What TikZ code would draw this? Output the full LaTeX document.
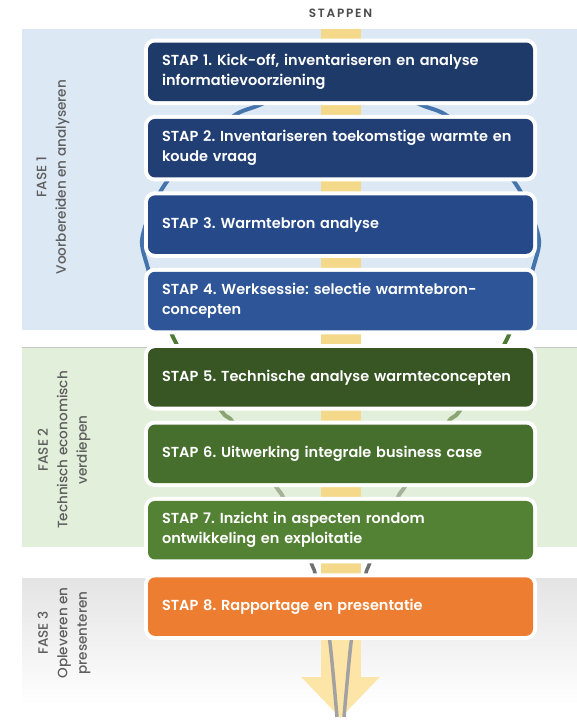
\documentclass[tikz,border=0pt]{standalone}
\usepackage{fontspec}
\setmainfont{Poppins}
\newfontfamily\semib{Poppins SemiBold}
\newfontfamily\stapf{Poppins SemiBold}[LetterSpace=15]
\newfontfamily\medf{Poppins Medium}
\usetikzlibrary{arrows.meta}
\pgfdeclarelayer{bands}
\pgfdeclarelayer{back}
\pgfsetlayers{bands,back,main}
\definecolor{cA}{HTML}{1E3A68}
\definecolor{cB}{HTML}{213F74}
\definecolor{cC}{HTML}{26498A}
\definecolor{cD}{HTML}{2D5597}
\definecolor{cE}{HTML}{375623}
\definecolor{cF}{HTML}{466F2D}
\definecolor{cG}{HTML}{548235}
\definecolor{cH}{HTML}{ED7D31}
\definecolor{bandA}{HTML}{DDE8F5}
\definecolor{bandB}{HTML}{E2EFDA}
\definecolor{bandC}{HTML}{E4E4E4}
\definecolor{yel}{HTML}{F5D98A}
\definecolor{ylight}{HTML}{FCE5A6}
\definecolor{labtxt}{HTML}{5E5E5E}
\definecolor{fBlue}{HTML}{4574AD}
\definecolor{fGreen}{HTML}{4E7A34}
\definecolor{fMGreen}{HTML}{8AA573}
\definecolor{fLGreen}{HTML}{A6B199}
\definecolor{fDGrey}{HTML}{6F6F6F}
\definecolor{fLGrey}{HTML}{A2A2A2}
\newcommand\myfunnelhalf{%
  \draw[fline, fBlue] plot[smooth] coordinates {(340.5,82) (290,93) (257,106) (235,115) (200,143) (168,180) (152,208) (142,240) (147,265) (160,305)};
  \draw[fline, fGreen] plot[smooth] coordinates {(160,305) (173,337) (178,347) (192,370)};
  \draw[fline, fMGreen] plot[smooth] coordinates {(178,347) (192,370) (200,380) (223,413) (232,421) (255,455)};
  \draw[fline, fLGreen] plot[smooth] coordinates {(255,455) (277,488) (283,497) (298,530)};
  \draw[line width=3.5pt, fDGrey] plot[smooth] coordinates {(298,530) (312,565) (315,573) (323,606)};
  \draw[line width=3.5pt, fLGrey] plot[smooth] coordinates {(323,606) (330,643) (337,717)};
}
\begin{document}
\frenchspacing
\begin{tikzpicture}[x=1pt,y=-1pt,
  stapbox/.style={rectangle, rounded corners=7pt, minimum width=385pt,
    minimum height=58.5pt, text width=357pt, align=left, inner xsep=14pt,
    inner ysep=0pt, text=white, font=\semib\fontsize{14.5}{20}\selectfont,
    preaction={draw=white, line width=8pt}},
  faselab/.style={rotate=90, align=center, text=labtxt,
    font=\medf\fontsize{13.6}{19.5}\selectfont},
  ylink/.style={draw=yel, line width=40pt},
  fline/.style={line width=4pt}]
\useasboundingbox (0,0) rectangle (577,727);

% steps
\node[stapbox, fill=cA] (b1) at (340.5,71.8) {STAP 1. Kick-off, inventariseren en analyse\\informatievoorziening};
\node[stapbox, fill=cB] (b2) at (340.5,148.2) {STAP 2. Inventariseren toekomstige warmte en\\koude vraag};
\node[stapbox, fill=cC] (b3) at (340.5,224.6) {STAP 3. Warmtebron analyse};
\node[stapbox, fill=cD] (b4) at (340.5,301) {STAP 4. Werksessie: selectie warmtebron-\\concepten};
\node[stapbox, fill=cE] (b5) at (340.5,377.4) {STAP 5. Technische analyse warmteconcepten};
\node[stapbox, fill=cF] (b6) at (340.5,453.8) {STAP 6. Uitwerking integrale business case};
\node[stapbox, fill=cG] (b7) at (340.5,530.2) {STAP 7. Inzicht in aspecten rondom\\ontwikkeling en exploitatie};
\node[stapbox, fill=cH] (b8) at (340.5,606.6) {STAP 8. Rapportage en presentatie};

\node[font=\stapf\fontsize{12}{14}\selectfont, text=labtxt!80!black] (stappen) at (340.5,13) {STAPPEN};

\coordinate (ytop) at (340.5,29);
\coordinate (atip) at (340.5,718);

\begin{pgfonlayer}{bands}
  \fill[white] (0,0) rectangle (577,727);
  \fill[bandA] (22,29) rectangle (577,330);
  \fill[bandB] (22,347) rectangle (577,547);
  \draw[black!22, line width=0.8pt] (22,347) -- (577,347);
  \shade[top color=bandC, bottom color=white] (22,578) rectangle (577,705);
  \node[faselab] (f1) at (53,177) {FASE 1\\Voorbereiden en analyseren};
  \node[faselab] (f2) at (64,450) {FASE 2\\Technisch economisch\\verdiepen};
  \node[faselab] (f3) at (64,633) {FASE 3\\Opleveren en\\presenteren};
\end{pgfonlayer}

\begin{pgfonlayer}{back}
  \draw[ylink] (ytop) -- (b1.north);
  \draw[ylink] (b1.south) -- (b2.north);
  \draw[ylink] (b2.south) -- (b3.north);
  \draw[ylink] (b3.south) -- (b4.north);
  \draw[ylink] (b4.south) -- (b5.north);
  \draw[ylink] (b5.south) -- (b6.north);
  \draw[ylink] (b6.south) -- (b7.north);
  \draw[ylink] (b7.south) -- (b8.north);
  \draw[draw=ylight, line width=40pt, -{Triangle[length=41pt,width=76pt]}] (b8.south) -- (atip);
  \begin{scope}
    \myfunnelhalf
  \end{scope}
  \begin{scope}[shift={(681,0)}, xscale=-1]
    \myfunnelhalf
  \end{scope}
\end{pgfonlayer}
\end{tikzpicture}
\end{document}
